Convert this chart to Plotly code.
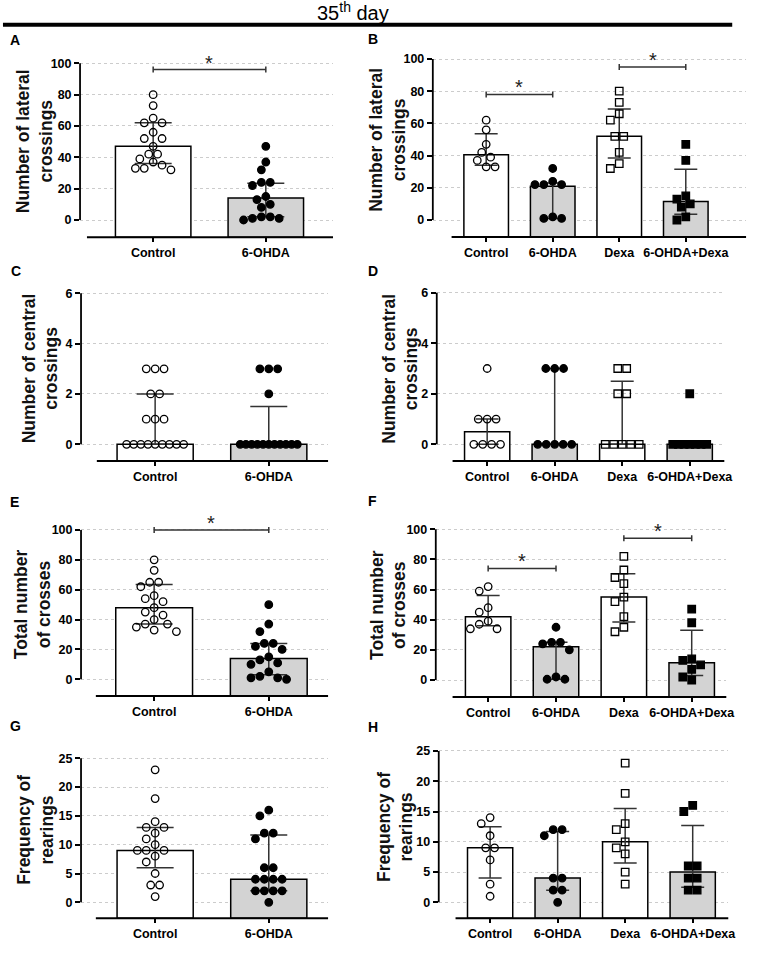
import math
import plotly.graph_objects as go

W, H = 760, 954
FONT = "Liberation Sans, Arial, sans-serif"

# ---------------- data ----------------
groups_two = ["Control", "6-OHDA"]
groups_four = ["Control", "6-OHDA", "Dexa", "6-OHDA+Dexa"]

# A - number of lateral crossings (Control vs 6-OHDA)
a_control = [80, 73, 65, 62, 62, 56, 52, 52, 47, 42, 42, 39, 37, 35, 33, 32, 33]
a_ohda = [47, 37, 32, 24, 24, 22, 15, 13, 10, 8, 2, 2, 1, 1, 0]
a_bar = [47, 14]
a_err_low = [36, 2]
a_err_high = [62, 23.5]

# B - number of lateral crossings (4 groups)
b_control = [62, 56, 47, 42, 39, 37, 33, 33]
b_ohda = [32, 24, 22, 22, 22, 2, 1, 1]
b_dexa = [80, 73, 66, 62, 52, 52, 42, 35, 32]
b_ohda_dexa = [47, 37, 15, 13, 10, 8, 2, 0]
b_bar = [40.5, 21, 52, 11.5]
b_err_low = [34, 1, 38.5, 3.5]
b_err_high = [53.5, 23, 69, 31.5]

# C - number of central crossings
c_control = [3, 3, 3, 2, 2, 1, 1, 1, 0, 0, 0, 0, 0, 0, 0, 0, 0]
c_ohda = [3, 3, 3, 2, 0, 0, 0, 0, 0, 0, 0, 0, 0, 0, 0]
c_bar = [0, 0]
c_err_low = [0, 0]
c_err_high = [2, 1.5]

# D - number of central crossings (4 groups)
d_control = [3, 1, 1, 1, 0, 0, 0, 0]
d_ohda = [3, 3, 3, 0, 0, 0, 0, 0]
d_dexa = [3, 3, 2, 2, 0, 0, 0, 0, 0]
d_ohda_dexa = [2, 0, 0, 0, 0, 0, 0, 0]
d_bar = [0.5, 0, 0, 0]
d_err_low = [0, 0, 0, 0]
d_err_high = [1, 3, 2.5, 0]

# E - total number of crosses
e_control = [80, 73, 65, 65, 62, 56, 54, 52, 48, 45, 43, 40, 37, 37, 35, 33, 32]
e_ohda = [50, 37, 32, 24, 24, 22, 20, 15, 13, 11, 10, 5, 2, 1, 1, 0]
e_bar = [48, 14]
e_err_low = [37, 3]
e_err_high = [63.5, 24]

# F - total number of crosses (4 groups)
f_control = [62, 59, 48, 45, 39, 37, 34, 34]
f_ohda = [35, 25, 25, 24, 20, 2, 0.5, 0.5]
f_dexa = [82, 73, 68, 64, 55, 52, 42, 35, 32]
f_ohda_dexa = [47, 38, 14, 13, 10, 7, 2, 0]
f_bar = [42, 22, 55, 11.5]
f_err_low = [36, 0.5, 38.5, 3]
f_err_high = [56, 25, 70.5, 33]

# G - frequency of rearings
g_control = [23, 18, 14, 13, 13, 12, 11, 10, 9, 9, 9, 8, 7, 5, 3, 3, 1]
g_ohda = [16, 15, 12, 12, 11, 6, 6, 4, 4, 4, 4, 2, 2, 2, 2, 0]
g_bar = [9, 4]
g_err_low = [6, 2]
g_err_high = [13, 11.7]

# H - frequency of rearings (4 groups)
h_control = [14, 13, 11, 9, 9, 7, 3, 1]
h_ohda = [12, 12, 11, 4, 4, 2, 2, 0]
h_dexa = [23, 18, 13, 12, 10, 9, 8, 5, 3]
h_ohda_dexa = [16, 15, 6, 6, 4, 4, 2, 2]
h_bar = [9, 4, 10, 5]
h_err_low = [4, 2, 6.5, 2.5]
h_err_high = [12.5, 11.7, 15.5, 12.7]

ticks_100 = [0, 20, 40, 60, 80, 100]
ticks_6 = [0, 2, 4, 6]
ticks_25 = [0, 5, 10, 15, 20, 25]

# significance brackets: (group i, group j, level)
a_sig = [(0, 1, 96)]
b_sig = [(0, 1, 78), (2, 3, 95)]
e_sig = [(0, 1, 100)]
f_sig = [(0, 1, 74), (2, 3, 94)]

# ---------------- panel assembly ----------------
panels = [
    dict(letter="A", title="Number of lateral<br>crossings", groups=groups_two,
         points=[a_control, a_ohda], bar=a_bar, lo=a_err_low, hi=a_err_high,
         ticks=ticks_100, sig=a_sig,
         geo=dict(yax=81, xs=88, xe=337, cs=[155, 269], ytop=63.3, y0=220, axis=237.3,
                  tx=35, lx=8, ly=40)),
    dict(letter="B", title="Number of lateral<br>crossings", groups=groups_four,
         points=[b_control, b_ohda, b_dexa, b_ohda_dexa], bar=b_bar, lo=b_err_low, hi=b_err_high,
         ticks=ticks_100, sig=b_sig,
         geo=dict(yax=438, xs=457, xe=755, cs=[492, 560, 627, 694], ytop=59, y0=220, axis=237,
                  tx=392, lx=370, ly=39)),
    dict(letter="C", title="Number of central<br>crossings", groups=groups_two,
         points=[c_control, c_ohda], bar=c_bar, lo=c_err_low, hi=c_err_high,
         ticks=ticks_6, sig=[],
         geo=dict(yax=82, xs=98, xe=332, cs=[157, 272], ytop=293.3, y0=444.3, axis=461,
                  tx=41, lx=9, ly=271)),
    dict(letter="D", title="Number of central<br>crossings", groups=groups_four,
         points=[d_control, d_ohda, d_dexa, d_ohda_dexa], bar=d_bar, lo=d_err_low, hi=d_err_high,
         ticks=ticks_6, sig=[],
         geo=dict(yax=442, xs=458, xe=733, cs=[493, 561, 630, 698], ytop=292.7, y0=444.3, axis=461,
                  tx=405, lx=370, ly=271)),
    dict(letter="E", title="Total number<br>of crosses", groups=groups_two,
         points=[e_control, e_ohda], bar=e_bar, lo=e_err_low, hi=e_err_high,
         ticks=ticks_100, sig=e_sig,
         geo=dict(yax=82, xs=97, xe=332, cs=[156, 272], ytop=530, y0=679.3, axis=696,
                  tx=33, lx=8, ly=502)),
    dict(letter="F", title="Total number<br>of crosses", groups=groups_four,
         points=[f_control, f_ohda, f_dexa, f_ohda_dexa], bar=f_bar, lo=f_err_low, hi=f_err_high,
         ticks=ticks_100, sig=f_sig,
         geo=dict(yax=441, xs=458, xe=735, cs=[494, 563, 632, 700], ytop=529.3, y0=680, axis=697,
                  tx=393, lx=370, ly=501)),
    dict(letter="G", title="Frequency of<br>rearings", groups=groups_two,
         points=[g_control, g_ohda], bar=g_bar, lo=g_err_low, hi=g_err_high,
         ticks=ticks_25, sig=[],
         geo=dict(yax=82, xs=97, xe=332, cs=[157, 272], ytop=758.3, y0=902.3, axis=918.3,
                  tx=36, lx=8, ly=726)),
    dict(letter="H", title="Frequency of<br>rearings", groups=groups_four,
         points=[h_control, h_ohda, h_dexa, h_ohda_dexa], bar=h_bar, lo=h_err_low, hi=h_err_high,
         ticks=ticks_25, sig=[],
         geo=dict(yax=444, xs=461, xe=737, cs=[496, 565, 633, 701], ytop=751, y0=902.3, axis=918.3,
                  tx=400, lx=370, ly=727)),
]

STYLE = {
    "Control": dict(symbol="circle-open", fill="white"),
    "6-OHDA": dict(symbol="circle", fill="#d3d3d3"),
    "Dexa": dict(symbol="square-open", fill="white"),
    "6-OHDA+Dexa": dict(symbol="square", fill="#d3d3d3"),
}


def swarm(values, ppu, spacing_px, d_px, max_span_px):
    """GraphPad-like scatter spreading; returns x offsets in category units."""
    n = len(values)
    order = sorted(range(n), key=lambda i: -values[i])
    placed = []
    offs = [0.0] * n
    k = 0
    while k < n:
        v = values[order[k]]
        grp = [i for i in order[k:] if values[i] == v]
        k += len(grp)
        m = len(grp)
        y = v * ppu
        s = d_px if m == 1 else min(d_px, max_span_px / (m - 1))
        row = [(q - (m - 1) / 2) * s for q in range(m)]
        if all(math.hypot(x - px, y - py) >= d_px for x in row for px, py in placed):
            for i, x in zip(grp, row):
                offs[i] = x
                placed.append((x, y))
        else:
            for i in grp:
                for t in range(60):
                    mag = ((t + 1) // 2) * 0.5 * d_px
                    x = -mag if t % 2 else mag
                    if all(math.hypot(x - px, y - py) >= d_px for px, py in placed):
                        break
                offs[i] = x
                placed.append((x, y))
    return [o / spacing_px for o in offs]


fig = go.Figure()
layout = dict(
    width=W, height=H, autosize=False,
    margin=dict(l=0, r=0, t=0, b=0),
    paper_bgcolor="white", plot_bgcolor="white",
    showlegend=False,
    font=dict(family=FONT, color="black"),
)
shapes = []
annotations = []

for k, p in enumerate(panels, start=1):
    g = p["geo"]
    n = len(p["groups"])
    ymax = p["ticks"][-1]
    ppu = (g["y0"] - g["ytop"]) / ymax
    yr0 = -(g["axis"] - g["y0"]) / ppu
    yr1 = ymax * 1.08
    top_px = g["y0"] - yr1 * ppu
    sp = (g["cs"][-1] - g["cs"][0]) / (n - 1)
    xr0 = (g["yax"] - g["cs"][0]) / sp
    xr1 = (g["xe"] - g["cs"][0]) / sp
    bar_w = 0.67
    cap = 18.5 if n == 2 else 11.5

    xn = "x" if k == 1 else f"x{k}"
    yn = "y" if k == 1 else f"y{k}"
    xkey = "xaxis" if k == 1 else f"xaxis{k}"
    ykey = "yaxis" if k == 1 else f"yaxis{k}"

    tickfont = dict(family=FONT, size=12.5, color="black", weight="bold")
    layout[xkey] = dict(
        domain=[g["yax"] / W, g["xe"] / W], range=[xr0, xr1], anchor=yn,
        tickvals=list(range(n)), ticktext=p["groups"], ticks="outside",
        ticklen=4, tickwidth=1.5, tickcolor="black", showline=False,
        showgrid=False, zeroline=False, tickfont=tickfont, fixedrange=True,
    )
    layout[ykey] = dict(
        domain=[1 - g["axis"] / H, 1 - top_px / H], range=[yr0, yr1], anchor=xn,
        tickvals=p["ticks"], ticks="outside", ticklen=5, tickwidth=1.5,
        tickcolor="black", showline=False, showgrid=True, gridcolor="#cccccc",
        griddash="dot", gridwidth=1, zeroline=False, tickfont=tickfont, fixedrange=True,
    )

    # bars
    fig.add_trace(go.Bar(
        x=list(range(n)), y=[m - yr0 for m in p["bar"]], base=yr0, width=bar_w,
        marker=dict(color=[STYLE[gn]["fill"] for gn in p["groups"]],
                    line=dict(color="black", width=1.5)),
        xaxis=xn, yaxis=yn, hoverinfo="skip",
    ))
    # error bars
    fig.add_trace(go.Scatter(
        x=list(range(n)), y=p["bar"], mode="markers",
        marker=dict(size=2, opacity=0),
        error_y=dict(type="data", symmetric=False,
                     array=[h - m for h, m in zip(p["hi"], p["bar"])],
                     arrayminus=[m - l for m, l in zip(p["bar"], p["lo"])],
                     color="#333333", thickness=1.5, width=cap),
        xaxis=xn, yaxis=yn, hoverinfo="skip",
    ))
    # individual points
    bar_px = bar_w * sp
    for gi, (gn, vals) in enumerate(zip(p["groups"], p["points"])):
        offs = swarm(vals, ppu, sp, 9.0, 0.75 * bar_px)
        fig.add_trace(go.Scatter(
            x=[gi + o for o in offs], y=vals, mode="markers",
            marker=dict(symbol=STYLE[gn]["symbol"], size=7.5, color="black",
                        line=dict(color="black", width=1.3)),
            xaxis=xn, yaxis=yn, cliponaxis=False, hoverinfo="skip",
        ))

    # axis lines (GraphPad style: y axis spans 0..max, x axis offset)
    shapes.append(dict(type="line", xref=f"{xn} domain", yref=yn,
                       x0=0, x1=0, y0=0, y1=ymax,
                       line=dict(color="black", width=1.8)))
    shapes.append(dict(type="line", xref=f"{xn} domain", yref=f"{yn} domain",
                       x0=(g["xs"] - g["yax"]) / (g["xe"] - g["yax"]), x1=1, y0=0, y1=0,
                       line=dict(color="black", width=2)))

    # significance brackets
    for (i, j, lvl) in p["sig"]:
        tick = 3.0 / ppu
        shapes.append(dict(type="line", xref=xn, yref=yn, x0=i, x1=j, y0=lvl, y1=lvl,
                           line=dict(color="#333333", width=1.5)))
        for xx in (i, j):
            shapes.append(dict(type="line", xref=xn, yref=yn, x0=xx, x1=xx,
                               y0=lvl - tick, y1=lvl + tick,
                               line=dict(color="#333333", width=1.5)))
        annotations.append(dict(xref=xn, yref=yn, x=(i + j) / 2, y=lvl, text="*",
                                showarrow=False, yanchor="bottom", yshift=-6,
                                font=dict(family=FONT, size=20, color="#222222")))

    # y-axis title
    annotations.append(dict(xref="paper", yref="paper", x=g["tx"] / W,
                            y=1 - ((g["ytop"] + g["y0"]) / 2) / H,
                            text=p["title"], textangle=-90, showarrow=False,
                            xanchor="center", yanchor="middle",
                            font=dict(family=FONT, size=17.5, color="#111111", weight="bold")))
    # panel letter
    annotations.append(dict(xref="paper", yref="paper", x=g["lx"] / W, y=1 - g["ly"] / H,
                            text=p["letter"], showarrow=False, xanchor="left", yanchor="middle",
                            font=dict(family=FONT, size=14, color="black", weight="bold")))

# figure title and rule
annotations.append(dict(xref="paper", yref="paper", x=357 / W, y=1 - 11 / H,
                        text="35<sup>th</sup> day", showarrow=False,
                        xanchor="center", yanchor="middle",
                        font=dict(family=FONT, size=20, color="black")))
shapes.append(dict(type="line", xref="paper", yref="paper",
                   x0=3 / W, x1=741 / W, y0=1 - 24.7 / H, y1=1 - 24.7 / H,
                   line=dict(color="black", width=4)))

layout["shapes"] = shapes
layout["annotations"] = annotations
layout["barmode"] = "overlay"
fig.update_layout(**layout)
fig.write_html("out.html", config={"displayModeBar": False},
               post_script="document.body.style.margin='0';document.body.style.overflow='hidden';")
